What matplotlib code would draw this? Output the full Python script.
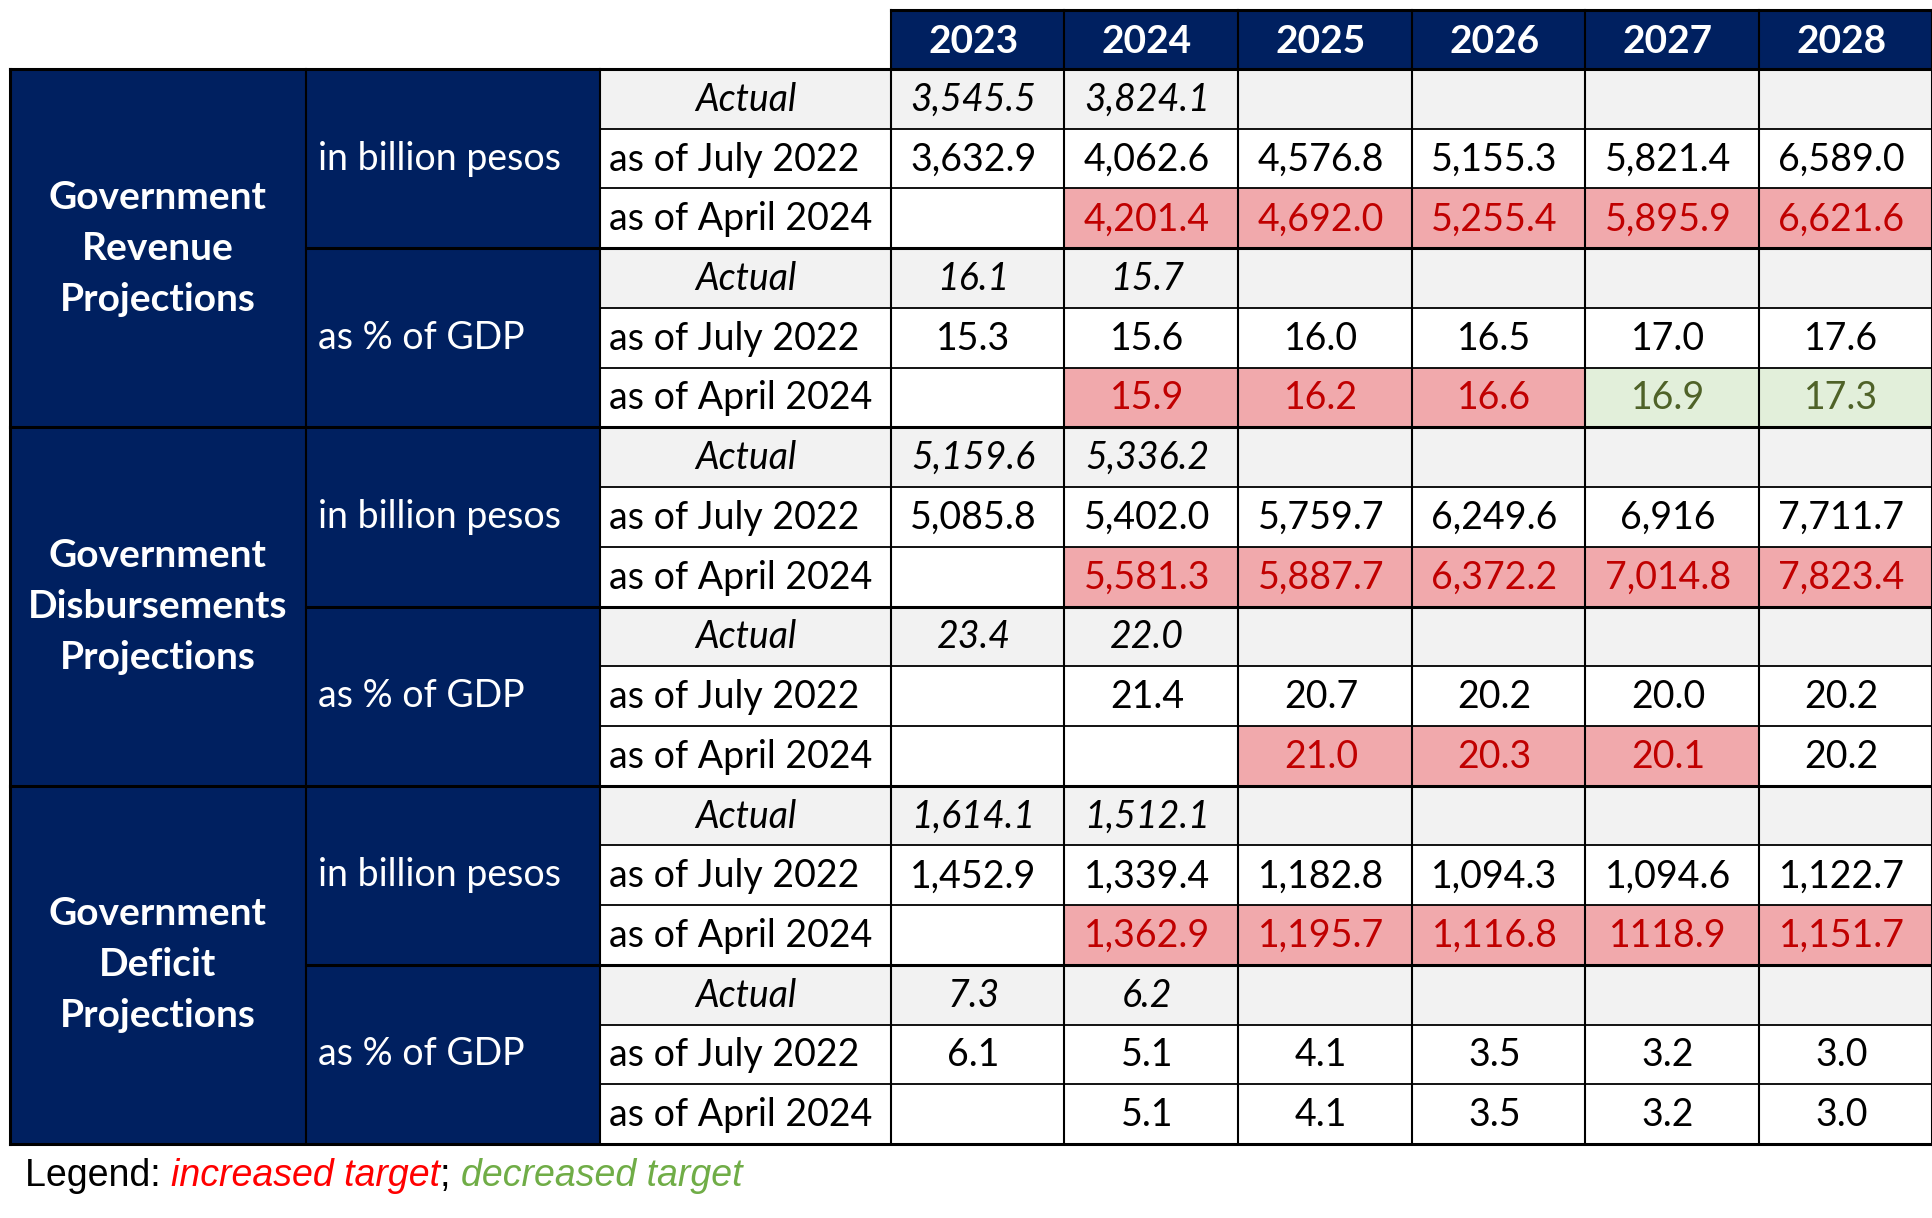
import matplotlib
matplotlib.use('Agg')
import matplotlib.pyplot as plt
from matplotlib.patches import Rectangle

plt.rcParams['font.family'] = ['Lato', 'DejaVu Sans']

# ---- data ----
years = ['2023', '2024', '2025', '2026', '2027', '2028']
groups = ['Government\nRevenue\nProjections',
          'Government\nDisbursements\nProjections',
          'Government\nDeficit\nProjections']
units = ['in billion pesos', 'as % of GDP']
row_labels = ['Actual', 'as of July 2022', 'as of April 2024']

rev_bn = [['3,545.5', '3,824.1', '', '', '', ''],
          ['3,632.9', '4,062.6', '4,576.8', '5,155.3', '5,821.4', '6,589.0'],
          ['', '4,201.4', '4,692.0', '5,255.4', '5,895.9', '6,621.6']]
rev_bn_flag = ['', 'r', 'r', 'r', 'r', 'r']
rev_pct = [['16.1', '15.7', '', '', '', ''],
           ['15.3', '15.6', '16.0', '16.5', '17.0', '17.6'],
           ['', '15.9', '16.2', '16.6', '16.9', '17.3']]
rev_pct_flag = ['', 'r', 'r', 'r', 'g', 'g']

dis_bn = [['5,159.6', '5,336.2', '', '', '', ''],
          ['5,085.8', '5,402.0', '5,759.7', '6,249.6', '6,916', '7,711.7'],
          ['', '5,581.3', '5,887.7', '6,372.2', '7,014.8', '7,823.4']]
dis_bn_flag = ['', 'r', 'r', 'r', 'r', 'r']
dis_pct = [['23.4', '22.0', '', '', '', ''],
           ['', '21.4', '20.7', '20.2', '20.0', '20.2'],
           ['', '', '21.0', '20.3', '20.1', '20.2']]
dis_pct_flag = ['', '', 'r', 'r', 'r', '']

def_bn = [['1,614.1', '1,512.1', '', '', '', ''],
          ['1,452.9', '1,339.4', '1,182.8', '1,094.3', '1,094.6', '1,122.7'],
          ['', '1,362.9', '1,195.7', '1,116.8', '1118.9', '1,151.7']]
def_bn_flag = ['', 'r', 'r', 'r', 'r', 'r']
def_pct = [['7.3', '6.2', '', '', '', ''],
           ['6.1', '5.1', '4.1', '3.5', '3.2', '3.0'],
           ['', '5.1', '4.1', '3.5', '3.2', '3.0']]
def_pct_flag = ['', '', '', '', '', '']

blocks = [(rev_bn, rev_bn_flag), (rev_pct, rev_pct_flag),
          (dis_bn, dis_bn_flag), (dis_pct, dis_pct_flag),
          (def_bn, def_bn_flag), (def_pct, def_pct_flag)]

# ---- styles ----
NAVY = '#002060'
GREY = '#F2F2F2'
RED_FILL = '#F1A9AC'
RED_TXT = '#C00000'
GRN_FILL = '#E2EFDA'
GRN_TXT = '#4F6228'

W, H = 1933, 1218
fig = plt.figure(figsize=(W / 100, H / 100), dpi=100)
ax = fig.add_axes([0, 0, 1, 1])
ax.set_xlim(0, W)
ax.set_ylim(H, 0)
ax.axis('off')

xe = [10, 306, 600, 891, 1064, 1238, 1412, 1585, 1759, 1932]
y_head = 10
y0 = 69
rh = (1144 - y0) / 18
FS = 27

def rect(x0, y0_, x1, y1, fc):
    ax.add_patch(Rectangle((x0, y0_), x1 - x0, y1 - y0_, fc=fc, ec='none', zorder=1))

# header
rect(xe[3], y_head, xe[9], y0, NAVY)
for j, yr in enumerate(years):
    ax.text((xe[3 + j] + xe[4 + j]) / 2 - 4, (y_head + y0) / 2 + 2, yr, color='white',
            fontsize=FS + 1, fontweight='bold', ha='center', va='center', zorder=3)

# body
for g in range(3):
    gy0 = y0 + g * 6 * rh
    rect(xe[0], gy0, xe[2], gy0 + 6 * rh, NAVY)
    ax.text((xe[0] + xe[1]) / 2, gy0 + 3 * rh, groups[g], color='white', fontsize=FS + 1,
            fontweight='bold', ha='center', va='center', linespacing=1.55, zorder=3)
    for u in range(2):
        by0 = gy0 + u * 3 * rh
        ax.text(xe[1] + 12, by0 + 1.5 * rh, units[u], color='white', fontsize=FS,
                ha='left', va='center', zorder=3)
        data, flags = blocks[g * 2 + u]
        for r in range(3):
            ry = by0 + r * rh
            cy = ry + rh / 2 + 1
            if r == 0:
                rect(xe[2], ry, xe[9], ry + rh, GREY)
                ax.text((xe[2] + xe[3]) / 2, cy, row_labels[r], fontsize=FS, style='italic',
                        ha='center', va='center', zorder=3)
            else:
                ax.text(xe[2] + 9, cy, row_labels[r], fontsize=FS, ha='left',
                        va='center', zorder=3)
            for j in range(6):
                val = data[r][j]
                col = 'black'
                if r == 2 and flags[j] == 'r':
                    rect(xe[3 + j], ry, xe[4 + j], ry + rh, RED_FILL)
                    col = RED_TXT
                elif r == 2 and flags[j] == 'g':
                    rect(xe[3 + j], ry, xe[4 + j], ry + rh, GRN_FILL)
                    col = GRN_TXT
                if val:
                    ax.text((xe[3 + j] + xe[4 + j]) / 2 - 4, cy, val, fontsize=FS, color=col,
                            style='italic' if r == 0 else 'normal',
                            ha='center', va='center', zorder=3)

# grid lines
y_end = y0 + 18 * rh
for k in range(19):
    yy = y0 + k * rh
    lw = 2.2 if k % 3 == 0 else 1.3
    x_start = xe[0] if k % 6 == 0 else (xe[1] if k % 3 == 0 else xe[2])
    ax.plot([x_start, xe[9]], [yy, yy], color='black', lw=lw, zorder=4,
            solid_capstyle='projecting')
ax.plot([xe[3], xe[9]], [y_head, y_head], color='black', lw=2.2, zorder=4,
        solid_capstyle='projecting')
for i, x in enumerate(xe):
    top = y_head if i >= 3 else y0
    lw = 2.2 if i in (0, 9) else 1.5
    ax.plot([x, x], [top, y_end], color='black', lw=lw, zorder=4,
            solid_capstyle='projecting')

# legend
fig.canvas.draw()
renderer = fig.canvas.get_renderer()
x = 25
ly = 1176
parts = [('Legend: ', 'black', 'normal'), ('increased target', '#FF0000', 'italic'),
         ('; ', 'black', 'normal'), ('decreased target', '#70AD47', 'italic')]
for txt, c, st in parts:
    t = ax.text(x, ly, txt, fontsize=27, color=c, style=st, family='Liberation Sans',
                ha='left', va='center', zorder=3)
    bb = t.get_window_extent(renderer)
    x += bb.width

fig.savefig('out.png', dpi=100)
